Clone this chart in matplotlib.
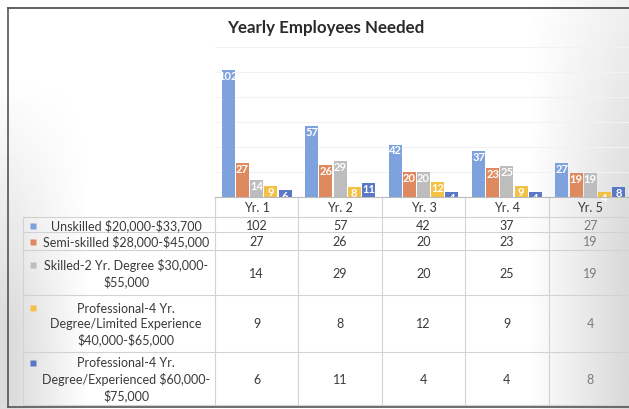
import numpy as np
import matplotlib
matplotlib.use('Agg')
import matplotlib.pyplot as plt
from matplotlib.lines import Line2D

plt.rcParams['text.parse_math'] = False

# data
years = ['Yr. 1', 'Yr. 2', 'Yr. 3', 'Yr. 4', 'Yr. 5']
series_names = ['Unskilled $20,000-$33,700',
                'Semi-skilled $28,000-$45,000',
                'Skilled-2 Yr. Degree $30,000-\n$55,000',
                'Professional-4 Yr.\nDegree/Limited Experience\n$40,000-$65,000',
                'Professional-4 Yr.\nDegree/Experienced $60,000-\n$75,000']
unskilled = [102, 57, 42, 37, 27]
semi_skilled = [27, 26, 20, 23, 19]
skilled_2yr = [14, 29, 20, 25, 19]
prof_limited = [9, 8, 12, 9, 4]
prof_experienced = [6, 11, 4, 4, 8]
series = [unskilled, semi_skilled, skilled_2yr, prof_limited, prof_experienced]
colors = ['#7ea2de', '#df8a5e', '#bdbdbd', '#f3c244', '#5a78c6']

W, H = 629, 409
fig = plt.figure(figsize=(W / 100, H / 100), dpi=100)
fig.patch.set_facecolor('white')

def box(x0, y0, x1, y1):
    # pixel box (top-left origin) -> figure fraction rect
    return [x0 / W, 1 - y1 / H, (x1 - x0) / W, (y1 - y0) / H]

# scanned background shading
bg = fig.add_axes([0, 0, 1, 1], zorder=-5)
gx = np.linspace(0, 1, 300)
gy = np.linspace(0, 1, 200)[:, None]
shade = 0.15 * np.clip((gx - 0.84) / 0.16, 0, 1) * np.clip(0.4 + gy, 0, 1)
shade = shade + 0.14 * np.clip((0.14 - gx) / 0.12, 0, 1) * np.clip(1.6 * gy - 0.3, 0, 1)
bg.imshow(1 - shade, cmap='gray', vmin=0, vmax=1, aspect='auto', extent=[0, 1, 0, 1])
bg.set_xlim(0, 1)
bg.set_ylim(0, 1)
bg.axis('off')

font = 'Lato'
txt_col = '#3a3a3a'

# bar chart
ax = fig.add_axes(box(215, 47, 632, 197))
x = np.arange(len(years))
n = len(series)
pitch = 0.17
bw = 0.155
for i, vals in enumerate(series):
    xs = x + (i - (n - 1) / 2) * pitch
    bars = ax.bar(xs, vals, width=bw, color=colors[i], zorder=3)
    for b, v in zip(bars, vals):
        ax.text(b.get_x() + b.get_width() / 2, v - 0.8, str(v), ha='center', va='top',
                color='white', fontsize=8, fontweight='bold', family=font, zorder=4)
ax.set_xlim(-0.5, len(years) - 0.5)
ax.set_ylim(0, 120)
ax.set_yticks(np.arange(0, 121, 20))
ax.grid(axis='y', color='#f2f2f2', linewidth=0.8, zorder=0)
ax.set_xticks([])
ax.tick_params(left=False, labelleft=False)
for s in ax.spines.values():
    s.set_visible(False)
ax.patch.set_alpha(0)

fig.text(326 / W, 1 - 28 / H, 'Yearly Employees Needed', ha='center', va='center',
         fontsize=12.2, fontweight='bold', family=font, color='#2a2a2a')

# data table drawn in pixel coordinates
tab = fig.add_axes([0, 0, 1, 1], zorder=2)
tab.set_xlim(0, W)
tab.set_ylim(H, 0)
tab.axis('off')
tab.patch.set_alpha(0)

col_left = 215
col_w = (632 - 215) / len(years)
row_edges = [197, 217, 232, 250, 295, 352, 405]
line_c = '#d2d2d2'

for j in range(len(years) + 1):
    xe = col_left + j * col_w
    tab.add_line(Line2D([xe, xe], [row_edges[0], row_edges[-1]], color=line_c, lw=0.8))
tab.add_line(Line2D([23, 23], [row_edges[1], row_edges[-1]], color=line_c, lw=0.8))
tab.add_line(Line2D([col_left, W], [row_edges[0], row_edges[0]], color='#bbbbbb', lw=0.8))
for r in row_edges[1:]:
    tab.add_line(Line2D([23, W], [r, r], color=line_c, lw=0.8))

fs = 9
for j, yr in enumerate(years):
    tab.text(col_left + (j + 0.5) * col_w, (row_edges[0] + row_edges[1]) / 2 + 1, yr,
             ha='center', va='center', fontsize=fs, family=font, color=txt_col)

for i, (name, vals) in enumerate(zip(series_names, series)):
    top, bot = row_edges[i + 1], row_edges[i + 2]
    mid = (top + bot) / 2 + 1
    nlines = name.count('\n') + 1
    first = mid - (nlines - 1) * 8.5
    tab.plot(33, first, marker='s', ms=4, color=colors[i], mec='none')
    tab.text(126, mid, name, ha='center', va='center', fontsize=fs, family=font,
             color=txt_col, linespacing=1.3)
    for j, v in enumerate(vals):
        tab.text(col_left + (j + 0.5) * col_w, mid, str(v), ha='center', va='center',
                 fontsize=fs, family=font, color=txt_col if j < 4 else '#7a7a7a')

# scanned frame
tab.add_line(Line2D([8, W], [8, 8], color='#444444', lw=1.2))
tab.add_line(Line2D([8, 8], [8, 407], color='#555555', lw=1.2))
tab.add_line(Line2D([8, W], [407, 407], color='#555555', lw=1.2))

fig.savefig('out.png', dpi=100)
